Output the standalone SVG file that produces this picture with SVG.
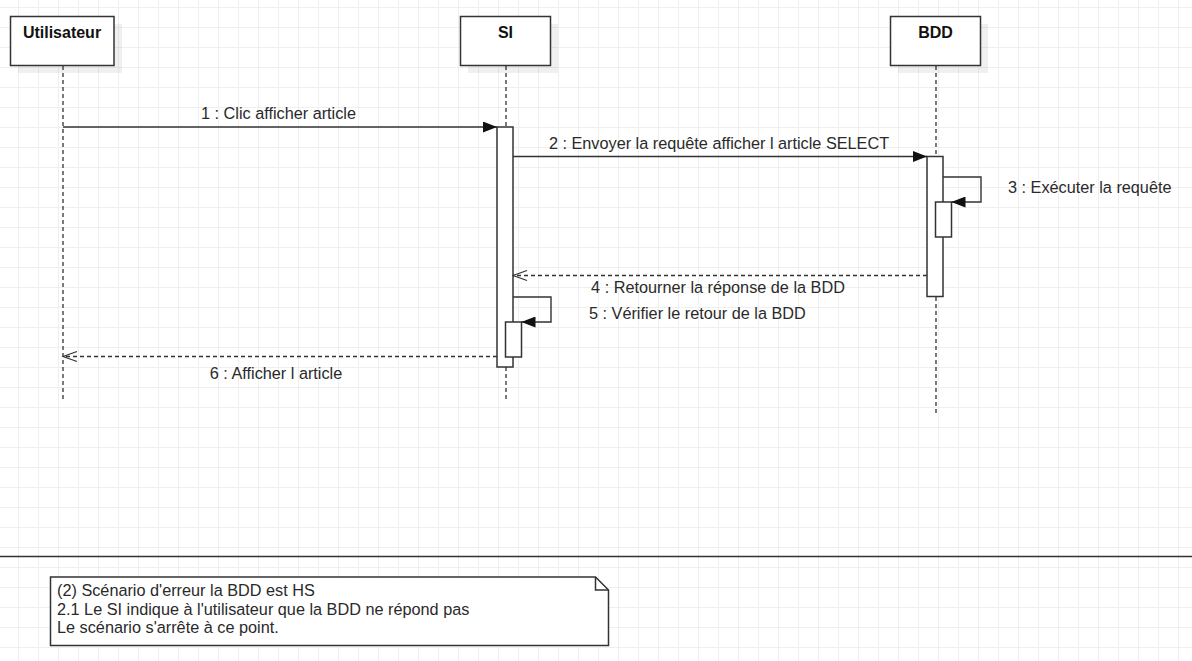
<svg xmlns="http://www.w3.org/2000/svg" width="1192" height="661" viewBox="0 0 1192 661">
<style>
.box{fill:#fff;stroke:#333;stroke-width:1.5}
.shadow{fill:#000;opacity:0.06}
.title{font-family:"Liberation Sans",Arial,sans-serif;font-size:16px;font-weight:bold;fill:#111;text-anchor:middle}
.lbl{font-family:"Liberation Sans",Arial,sans-serif;font-size:16.25px;fill:#2a2a2a}
.mid{text-anchor:middle}
.life{stroke:#333;stroke-width:1.3;stroke-dasharray:4 3;fill:none}
.act{fill:#fff;stroke:#333;stroke-width:1.5}
.msg{stroke:#333;stroke-width:1.4;fill:none}
.ret{stroke:#333;stroke-width:1.3;fill:none;stroke-dasharray:4 3}
</style>
<defs>
<pattern id="grid" x="18" y="7" width="20" height="20" patternUnits="userSpaceOnUse">
<path d="M0.5 0 V20 M0 0.5 H20" stroke="#efefef" stroke-width="1" fill="none"/>
</pattern>
<marker id="block" markerUnits="userSpaceOnUse" markerWidth="14" markerHeight="11" refX="14" refY="5.5" orient="auto" viewBox="0 0 14 11">
<path d="M0,0 L14,5.5 L0,11 Z" fill="#111"/>
</marker>
<marker id="open" markerUnits="userSpaceOnUse" markerWidth="16" markerHeight="13" refX="15" refY="6.5" orient="auto" viewBox="0 0 16 13">
<path d="M1,1.5 L15,6.5 L1,11.5" fill="none" stroke="#333" stroke-width="1.3"/>
</marker>
</defs>
<rect width="1192" height="661" fill="#fff"/>
<rect width="1192" height="661" fill="url(#grid)"/>

<g id="lifelines">
<line class="life" x1="63" y1="66" x2="63" y2="400"/>
<line class="life" x1="506" y1="66" x2="506" y2="399"/>
<line class="life" x1="936" y1="66" x2="936" y2="415"/>
</g>

<g id="utilisateur">
<rect class="shadow" x="18" y="24" width="104" height="49"/>
<rect class="box" x="10.5" y="16.5" width="103.5" height="49"/>
<text class="title" x="62" y="38">Utilisateur</text>
</g>
<g id="si">
<rect class="shadow" x="468" y="24" width="90" height="49"/>
<rect class="box" x="460.5" y="16.5" width="90" height="49"/>
<text class="title" x="505.5" y="38">SI</text>
</g>
<g id="bdd">
<rect class="shadow" x="898" y="24" width="90" height="49"/>
<rect class="box" x="890.5" y="16.5" width="90" height="49"/>
<text class="title" x="935.5" y="38">BDD</text>
</g>

<g id="activations">
<rect class="act" x="497" y="127" width="16" height="240"/>
<rect class="act" x="927" y="156.5" width="16" height="140"/>
<rect class="act" x="935.5" y="202" width="16" height="35"/>
<rect class="act" x="505.5" y="322" width="16" height="35"/>
</g>

<g id="connectors">
<line class="msg" x1="63" y1="127" x2="497" y2="127" marker-end="url(#block)"/>
<text class="lbl mid" x="278.5" y="119">1 : Clic afficher article</text>
<line class="msg" x1="513" y1="156.5" x2="927" y2="156.5" marker-end="url(#block)"/>
<text class="lbl mid" x="719" y="148.5">2 : Envoyer la requête afficher l article SELECT</text>
<path class="msg" d="M943 177 H981 V202 H951.5" marker-end="url(#block)"/>
<text class="lbl" x="1008" y="193">3 : Exécuter la requête</text>
<line class="ret" x1="927" y1="275.5" x2="513" y2="275.5" marker-end="url(#open)"/>
<text class="lbl mid" x="718" y="293">4 : Retourner la réponse de la BDD</text>
<path class="msg" d="M513 297 H551 V322 H521.5" marker-end="url(#block)"/>
<text class="lbl" x="589" y="318.5">5 : Vérifier le retour de la BDD</text>
<line class="ret" x1="497" y1="356.5" x2="63" y2="356.5" marker-end="url(#open)"/>
<text class="lbl mid" x="276" y="378.5">6 : Afficher l article</text>
</g>

<g id="separator">
<line x1="0" y1="556.5" x2="1192" y2="556.5" stroke="#333" stroke-width="1.6"/>
</g>

<g id="note">
<path class="box" d="M50.5 577 H595.5 L608.5 590 V645.5 H50.5 Z"/>
<path d="M595.5 577 V590 H608.5" fill="none" stroke="#333" stroke-width="1.5"/>
<text class="lbl" x="57" y="596">(2) Scénario d'erreur la BDD est HS</text>
<text class="lbl" x="57" y="614.5">2.1 Le SI indique à l'utilisateur que la BDD ne répond pas</text>
<text class="lbl" x="57" y="633">Le scénario s'arrête à ce point.</text>
</g>
</svg>
